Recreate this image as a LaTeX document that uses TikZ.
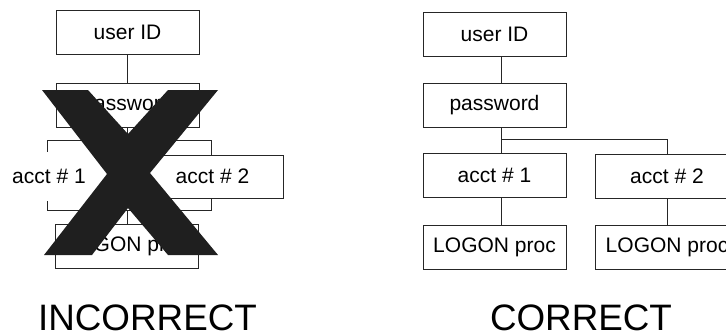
\documentclass[tikz,border=0pt]{standalone}
\usepackage{fontspec}
\setmainfont{Liberation Sans}
\begin{document}
\begin{tikzpicture}[x=1pt,y=-1pt,
  box/.style={draw=black!85,line width=0.8pt,minimum width=143pt,minimum height=44pt,inner sep=0pt,font=\fontsize{21}{25}\selectfont},
  link/.style={draw=black!85,line width=0.8pt},
  caption/.style={font=\fontsize{36.8}{40}\selectfont,anchor=base,inner sep=0pt}]
\useasboundingbox (0,0) rectangle (726,333);

% Incorrect layout
\node[box] (uid1) at (127.5,32.5) {user ID};
\node[box] (pw1) at (127.5,105) {password};
\node[box,minimum width=164pt,minimum height=70pt] (wrong) at (129,175) {};
\node[box,draw=none,fill=white,minimum width=0pt,inner xsep=2pt,minimum height=49pt] (acc11) at (49,176) {acct \# 1};
\node[box,fill=white,minimum width=141pt,minimum height=43pt] (acc12) at (212.5,176.5) {acct \# 2};
\node[box] (log11) at (127,246) {LOGON proc};
\draw[link] (uid1) -- (pw1);
\draw[link] (pw1) -- (pw1 |- wrong.north);
\draw[link] (wrong.south -| log11) -- (log11);

% Cross
\fill[black!88] (42,90) -- (88,90) -- (128,134) -- (168,90) -- (218,90) -- (150,173)
  -- (218,255) -- (168,255) -- (128,208) -- (92,255) -- (44,255) -- (107,174) -- cycle;

% Correct layout
\coordinate (trunk) at (501,0);
\coordinate (split) at (501,139);
\node[box] (uid2) at (494.5,34.5) {user ID};
\node[box] (pw2) at (494.5,105) {password};
\node[box] (acc21) at (494.5,175) {acct \# 1};
\node[box] (acc22) at (667,176) {acct \# 2};
\node[box] (log21) at (494.5,247) {LOGON proc};
\node[box] (log22) at (667,247) {LOGON proc};
\draw[link] (uid2.south -| trunk) -- (pw2.north -| trunk);
\draw[link] (pw2.south -| trunk) -- (acc21.north -| trunk);
\draw[link] (split) -| (acc22.north);
\draw[link] (acc21.south -| trunk) -- (log21.north -| trunk);
\draw[link] (acc22) -- (log22);

% Labels
\node[caption] (bad) at (147.5,330) {INCORRECT};
\node[caption] (good) at (581,330) {CORRECT};
\end{tikzpicture}
\end{document}
